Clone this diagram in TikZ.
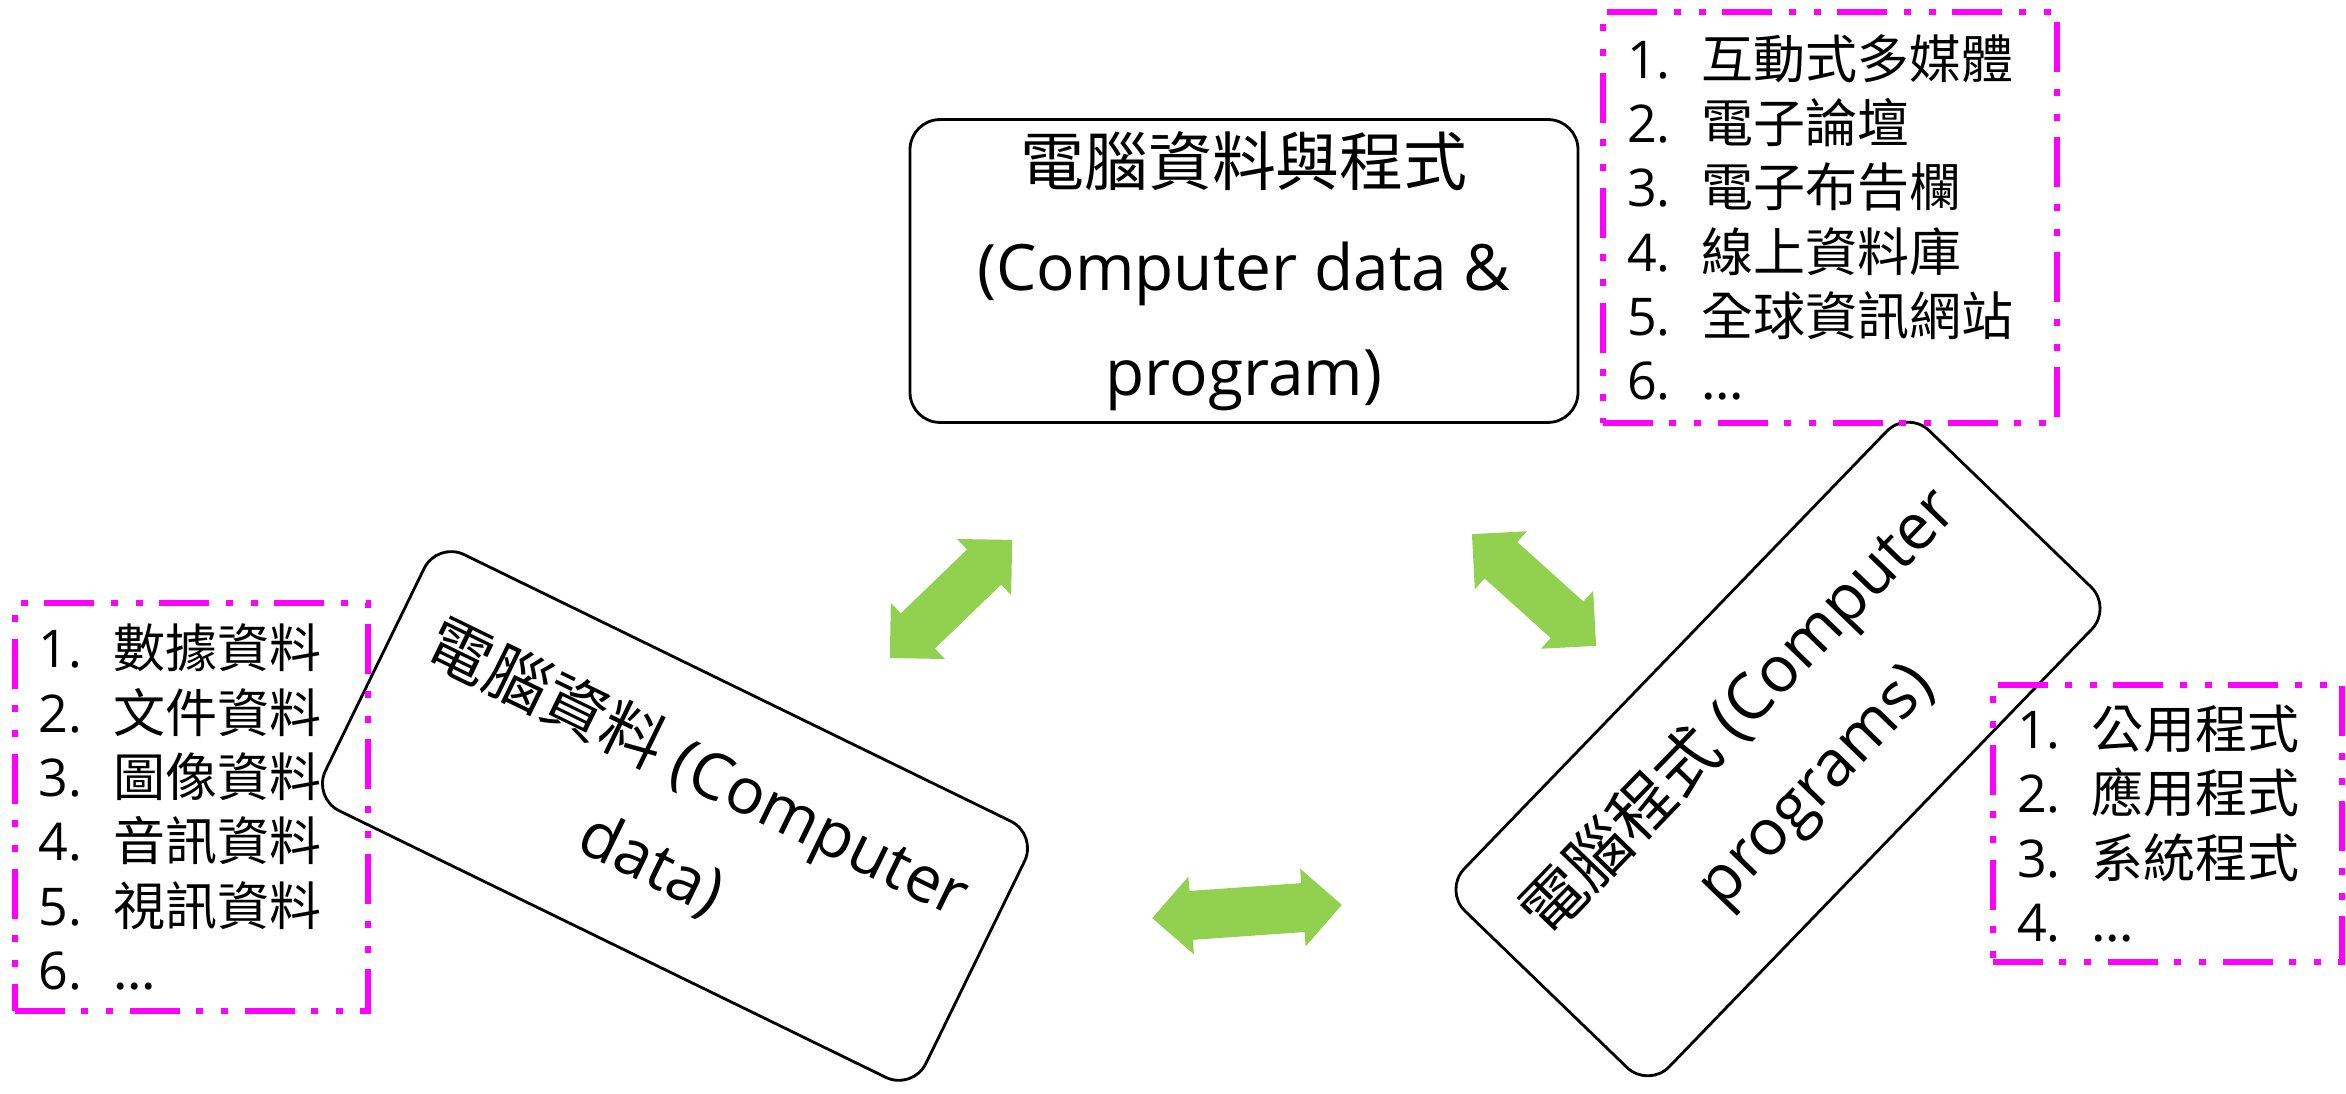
\documentclass[tikz,border=0pt]{standalone}
\usepackage{fontspec}
\setmainfont{Open Sans}
\newfontfamily\cjk{Noto Sans CJK TC}
\usepackage{xcolor}

\definecolor{arrowgreen}{RGB}{146,208,80}
\definecolor{listpink}{RGB}{255,0,255}

\tikzset{
    mainbox/.style={draw, line width=0.8pt, rounded corners=0.3cm, minimum width=6.68cm, minimum height=2.85cm, align=center, font=\fontsize{18.2}{29.9}\selectfont},
    listbox/.style={draw=listpink, line width=1.8pt, dash pattern=on 0.5cm off 0.16cm on 0.07cm off 0.18cm on 0.07cm off 0.17cm, align=left, inner xsep=0.24cm, font=\fontsize{14.8}{18.3}\selectfont}
}

% one numbered line of a list
\newcommand{\listline}[2]{\makebox[0.74cm][l]{#1}{\cjk #2}}

% green block arrow: centre, angle, length
\newcommand{\greenarrow}[3]{%
    \fill[arrowgreen, shift={#1}, rotate=#2]
        ({-#3/2},0) -- ++(0.39,0.39) -- ++(0,-0.145) -- ({#3/2-0.39},0.245) -- ++(0,0.145)
        -- ({#3/2},0) -- ++(-0.39,-0.39) -- ++(0,0.145) -- ({-#3/2+0.39},-0.245) -- ++(0,-0.145) -- cycle;
}

\begin{document}
\begin{tikzpicture}

    \useasboundingbox (0,0) rectangle (23.46,10.94);

    % Main boxes
    \node[mainbox, minimum height=3.02cm] (dataprog) at (12.44,8.23) {{\cjk 電腦資料與程式}\\(Computer data \&\\program)};
    \node[mainbox, rotate=-26] (data) at (6.75,2.78) {{\cjk 電腦資料} (Computer\\data)};
    \node[mainbox, rotate=46] (programs) at (17.78,3.45) {{\cjk 電腦程式} (Computer\\programs)};

    % Double arrows
    \greenarrow{(9.51,4.95)}{44}{1.70}
    \greenarrow{(15.34,5.04)}{-42}{1.67}
    \greenarrow{(12.47,1.825)}{4}{1.90}

    % Lists
    \node[listbox, text width=4.06cm, minimum height=4.11cm] (weblist) at (18.30,8.765) {%
        \listline{1.}{互動式多媒體}\\
        \listline{2.}{電子論壇}\\
        \listline{3.}{電子布告欄}\\
        \listline{4.}{線上資料庫}\\
        \listline{5.}{全球資訊網站}\\
        \listline{6.}{...}};
    \node[listbox, text width=3.05cm, minimum height=4.08cm] (datalist) at (1.915,2.87) {%
        \listline{1.}{數據資料}\\
        \listline{2.}{文件資料}\\
        \listline{3.}{圖像資料}\\
        \listline{4.}{音訊資料}\\
        \listline{5.}{視訊資料}\\
        \listline{6.}{...}};
    \node[listbox, text width=3.01cm, minimum height=2.77cm] (proglist) at (21.675,2.705) {%
        \listline{1.}{公用程式}\\
        \listline{2.}{應用程式}\\
        \listline{3.}{系統程式}\\
        \listline{4.}{...}};

\end{tikzpicture}
\end{document}
